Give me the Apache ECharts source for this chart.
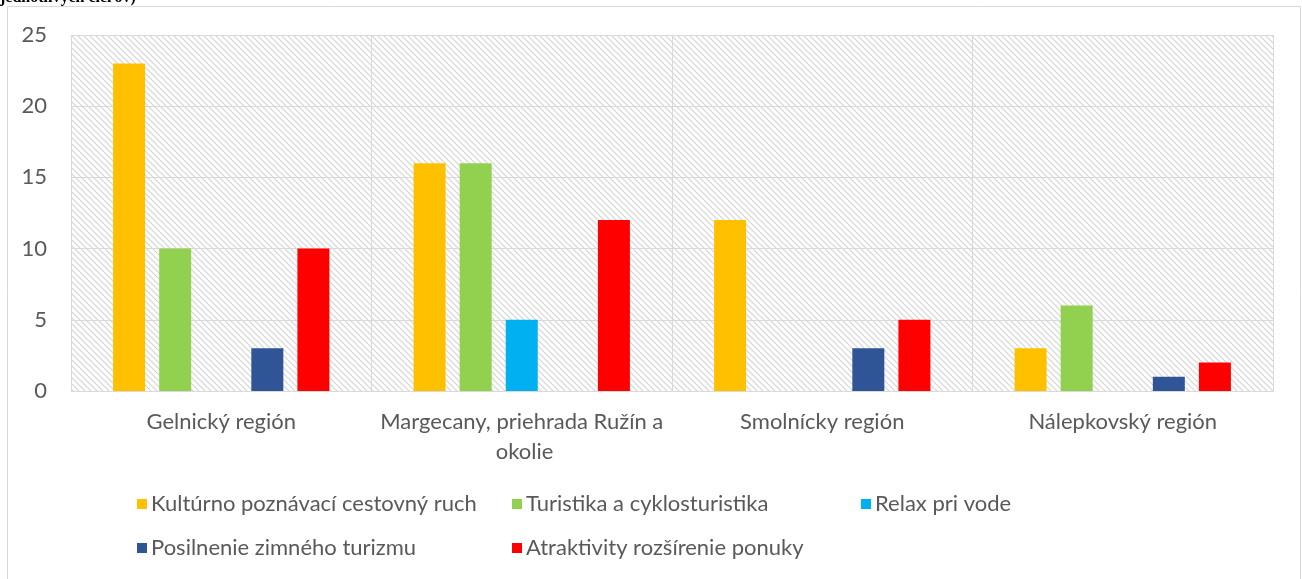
<!DOCTYPE html>
<html>
<head>
<meta charset="utf-8">
<script src="https://cdn.jsdelivr.net/npm/echarts@6/dist/echarts.min.js"></script>
<style>
  html, body { margin: 0; padding: 0; background: #fff; }
  #chart { width: 1302px; height: 579px; }
</style>
</head>
<body>
<div id="chart"></div>
<script>
// ---- 数据 ----
const regions = ["Gelnický región", "Margecany, priehrada Ružín a okolie", "Smolnícky región", "Nálepkovský región"];
const seriesNames = [
  "Kultúrno poznávací cestovný ruch",
  "Turistika a cyklosturistika",
  "Relax pri vode",
  "Posilnenie zimného turizmu",
  "Atraktivity rozšírenie ponuky",
];
const kulturno = [23, 16, 12, 3];
const turistika = [10, 16, 0, 6];
const relax = [0, 5, 0, 0];
const zimny = [3, 0, 3, 1];
const atraktivity = [10, 12, 5, 2];
const yTicks = [0, 5, 10, 15, 20, 25];

const colors = ["#FFC000", "#92D050", "#00B0F0", "#2F5597", "#FF0000"];
const values = [kulturno, turistika, relax, zimny, atraktivity];
const FONT = "Lato";
const TXT = "#595959";

// 斜线底纹
function hatch() {
  const s = 6;
  const c = document.createElement("canvas");
  c.width = s; c.height = s;
  const g = c.getContext("2d");
  g.strokeStyle = "#d4d4d4";
  g.lineWidth = 1.2;
  g.beginPath();
  g.moveTo(-1, -1); g.lineTo(s + 1, s + 1);
  g.moveTo(-1, s - 1); g.lineTo(1, s + 1);
  g.moveTo(s - 1, -1); g.lineTo(s + 1, 1);
  g.stroke();
  return c;
}

// 图例位置（仿 Excel 列对齐）
const legendPos = [
  { left: 137, top: 493 },
  { left: 512, top: 493 },
  { left: 861, top: 493 },
  { left: 137, top: 537 },
  { left: 512, top: 537 },
];

const chart = echarts.init(document.getElementById("chart"));
chart.setOption({
  animation: false,
  textStyle: { fontFamily: FONT },
  graphic: [
    {
      type: "rect", silent: true,
      shape: { x: 7.5, y: 6.5, width: 1293, height: 600 },
      style: { fill: "none", stroke: "#d9d9d9", lineWidth: 1 },
    },
    {
      type: "text", left: 0, top: -10, silent: true,
      style: { text: "jednotlivých cieľov)", font: 'bold 16px "Liberation Serif"', fill: "#000" },
    },
  ],
  grid: {
    left: 71, right: 29, top: 35, bottom: 188,
    show: true,
    backgroundColor: { image: hatch(), repeat: "repeat" },
    borderWidth: 0,
  },
  legend: seriesNames.map((n, i) => ({
    data: [n],
    left: legendPos[i].left, top: legendPos[i].top,
    icon: "rect", itemWidth: 10, itemHeight: 10, itemGap: 0,
    textStyle: { color: TXT, fontSize: 22, fontFamily: FONT, padding: [0, 0, 0, -1] },
    padding: 0,
  })),
  xAxis: {
    type: "category",
    data: regions,
    axisLine: { lineStyle: { color: "#d9d9d9", width: 1 } },
    axisTick: { show: false },
    splitLine: { show: true, lineStyle: { color: "#d9d9d9", width: 1 } },
    axisLabel: {
      color: TXT, fontSize: 22, fontFamily: FONT, margin: 16,
      width: 318, overflow: "break", lineHeight: 30, interval: 0,
    },
  },
  yAxis: {
    type: "value",
    min: yTicks[0], max: yTicks[yTicks.length - 1], interval: 5,
    axisLine: { show: false },
    axisTick: { show: false },
    splitLine: { lineStyle: { color: "#d9d9d9", width: 1 } },
    axisLabel: { color: TXT, fontSize: 22, fontFamily: FONT, margin: 24 },
  },
  series: seriesNames.map((n, i) => ({
    name: n,
    type: "bar",
    data: values[i],
    itemStyle: { color: colors[i] },
    barWidth: 32,
    barGap: "44%",
    barCategoryGap: "14%",
  })),
});
</script>
</body>
</html>
